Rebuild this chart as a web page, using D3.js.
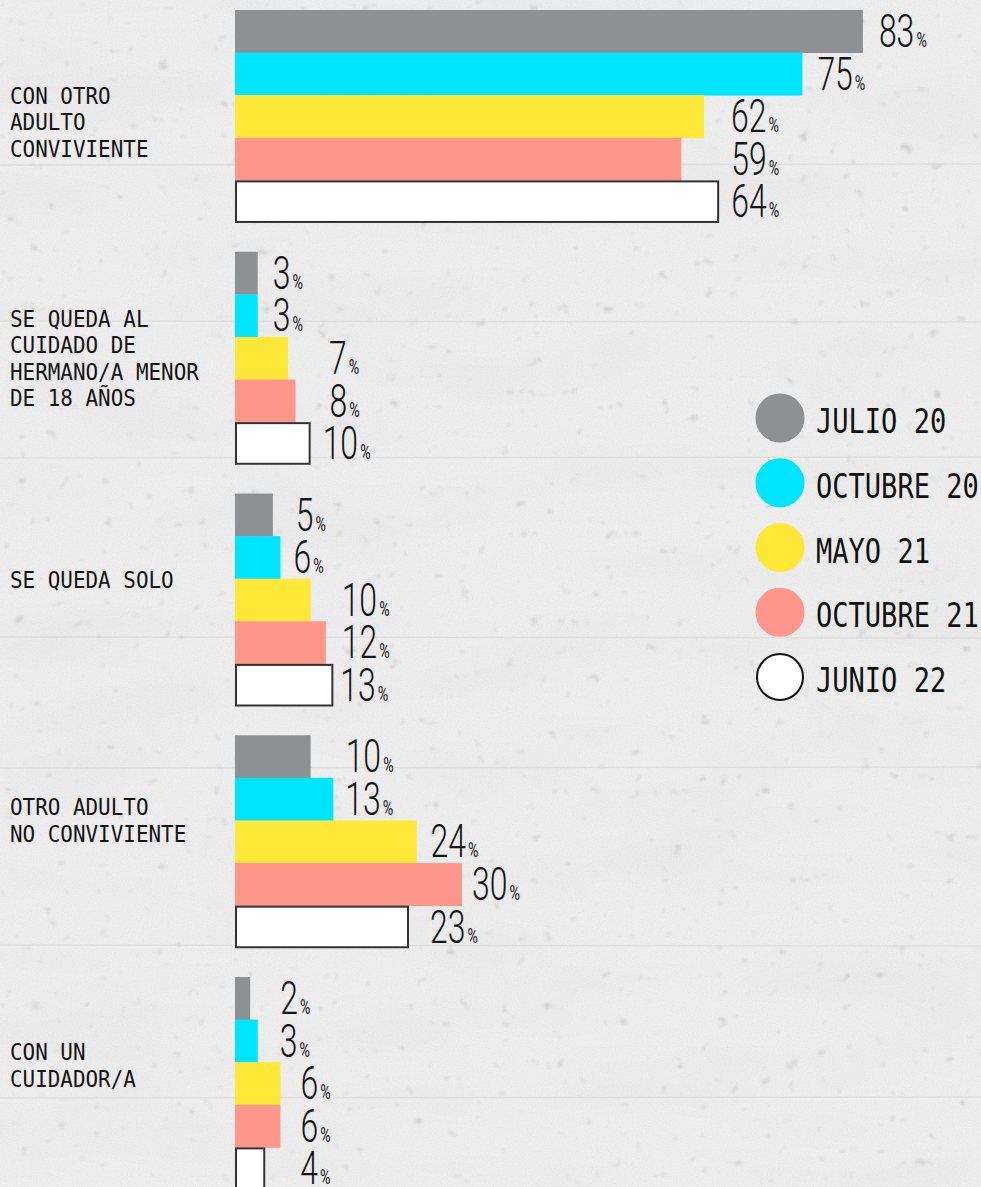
<!DOCTYPE html>
<html>
<head>
<meta charset="utf-8">
<script src="https://cdn.jsdelivr.net/npm/d3@7"></script>
<style>
  html, body { margin: 0; padding: 0; background: #ededed; }
  svg { display: block; }
</style>
</head>
<body>
<div id="chart"></div>
<script>
// ---- data ----
const categories = [
  "CON OTRO\nADULTO\nCONVIVIENTE",
  "SE QUEDA AL\nCUIDADO DE\nHERMANO/A MENOR\nDE 18 AÑOS",
  "SE QUEDA SOLO",
  "OTRO ADULTO\nNO CONVIVIENTE",
  "CON UN\nCUIDADOR/A"
];
const series = ["JULIO 20", "OCTUBRE 20", "MAYO 21", "OCTUBRE 21", "JUNIO 22"];
const julio20   = [83, 3, 5, 10, 2];
const octubre20 = [75, 3, 6, 13, 3];
const mayo21    = [62, 7, 10, 24, 6];
const octubre21 = [59, 8, 12, 30, 6];
const junio22   = [64, 10, 13, 23, 4];
const seriesValues = [julio20, octubre20, mayo21, octubre21, junio22];

// ---- layout ----
const W = 981, H = 1187;
const colors = ["#8e9194", "#00e5ff", "#ffe838", "#ff968c", "#ffffff"];
// horizontal gap (px) between each bar end and its value label, per category
const labelGap = [
  [16, 15, 27, 50, 12],
  [15, 15, 41, 34, 12],
  [23, 13, 31, 16, 7],
  [35, 12, 14, 10, 21],
  [30, 22, 20, 20, 35]
];
// first baseline of each category label, measured from the top of its group
const catLabelDy = [94, 75, 94, 80, 83];

const svg = d3.select("#chart").append("svg")
  .attr("width", W).attr("height", H);

// ---- concrete-like backdrop ----
const defs = svg.append("defs");
const grain = defs.append("filter").attr("id", "grain")
  .attr("x", 0).attr("y", 0).attr("width", "100%").attr("height", "100%");
grain.append("feTurbulence").attr("type", "fractalNoise")
  .attr("baseFrequency", "0.8").attr("numOctaves", 2).attr("seed", 4);
grain.append("feColorMatrix").attr("type", "matrix")
  .attr("values", "0 0 0 0 0.35  0 0 0 0 0.35  0 0 0 0 0.35  0.22 0 0 0 -0.08");

const specks = defs.append("filter").attr("id", "specks")
  .attr("x", 0).attr("y", 0).attr("width", "100%").attr("height", "100%");
specks.append("feTurbulence").attr("type", "fractalNoise")
  .attr("baseFrequency", "0.07").attr("numOctaves", 3).attr("seed", 11);
specks.append("feColorMatrix").attr("type", "matrix")
  .attr("values", "0 0 0 0 0.55  0 0 0 0 0.55  0 0 0 0 0.55  5 0 0 0 -3.6");
specks.append("feGaussianBlur").attr("stdDeviation", 1.1);

const blotch = defs.append("filter").attr("id", "blotch")
  .attr("x", 0).attr("y", 0).attr("width", "100%").attr("height", "100%");
blotch.append("feTurbulence").attr("type", "fractalNoise")
  .attr("baseFrequency", "0.005 0.018").attr("numOctaves", 2).attr("seed", 2);
blotch.append("feColorMatrix").attr("type", "matrix")
  .attr("values", "0 0 0 0 0.55  0 0 0 0 0.55  0 0 0 0 0.55  0.18 0 0 0 -0.06");

const bg = svg.append("g").attr("class", "backdrop");
bg.append("rect").attr("width", W).attr("height", H).attr("fill", "#efefef");
bg.append("rect").attr("width", W).attr("height", H).attr("filter", "url(#blotch)");
bg.append("rect").attr("width", W).attr("height", H).attr("filter", "url(#grain)");
bg.append("rect").attr("width", W).attr("height", H).attr("filter", "url(#specks)").attr("opacity", 0.7);
// faint horizontal joints of the wall
[165, 321, 458, 637, 768, 945, 1098].forEach((yy, i) => {
  bg.append("line")
    .attr("x1", 0).attr("x2", W).attr("y1", yy).attr("y2", yy + (i % 2 ? 1 : -1))
    .attr("stroke", "#cdcdcd").attr("stroke-width", 1.6).attr("opacity", 0.35);
});

// ---- scales ----
const x = d3.scaleLinear().domain([0, 100]).range([235, 235 + 756.5]);
const y0 = d3.scaleBand().domain(categories).range([10, 1190]).paddingInner(0.119).paddingOuter(0);
const y1 = d3.scaleBand().domain(series).range([0, y0.bandwidth()]);

const rows = [];
categories.forEach((c, ci) => {
  series.forEach((s, si) => {
    rows.push({ c, ci, s, si, v: seriesValues[si][ci] });
  });
});

// ---- bars ----
const bars = svg.append("g").attr("class", "bars");
bars.selectAll("rect").data(rows).join("rect")
  .attr("x", d => d.si === 4 ? x(0) + 1 : x(0))
  .attr("y", d => y0(d.c) + y1(d.s) + (d.si === 4 ? 1 : 0))
  .attr("width", d => d.si === 4 ? x(d.v) - x(0) - 2 : x(d.v) - x(0))
  .attr("height", d => d.si === 4 ? y1.bandwidth() - 2 : y1.bandwidth() + 0.4)
  .attr("fill", d => colors[d.si])
  .attr("stroke", d => d.si === 4 ? "#333333" : "none")
  .attr("stroke-width", 2);

// ---- value labels ----
const vals = svg.append("g").attr("class", "values")
  .style("font-family", "Roboto, 'Noto Sans', sans-serif")
  .style("font-weight", 300)
  .attr("fill", "#161616");
const vt = vals.selectAll("text").data(rows).join("text")
  .attr("transform", d => `translate(${x(d.v) + labelGap[d.ci][d.si]},${y0(d.c) + y1(d.s) + 37}) scale(0.68,1)`);
vt.append("tspan").attr("font-size", 47).text(d => d.v);
vt.append("tspan").attr("font-size", 21).attr("dx", 3).style("font-weight", 400).text("%");

// ---- category labels ----
const cats = svg.append("g").attr("class", "categories")
  .style("font-family", "'DejaVu Sans Mono', 'Liberation Mono', monospace")
  .attr("font-size", 23).attr("fill", "#141414");
categories.forEach((c, ci) => {
  const t = cats.append("text")
    .attr("transform", `translate(10,${y0(c) + catLabelDy[ci]}) scale(0.91,1)`);
  c.split("\n").forEach((line, li) => {
    t.append("tspan").attr("x", 0).attr("dy", li === 0 ? 0 : 26.5).text(line);
  });
});

// ---- legend ----
const legend = svg.append("g").attr("class", "legend");
const ly = d3.scalePoint().domain(series).range([418, 677]);
const li = legend.selectAll("g").data(series).join("g")
  .attr("transform", d => `translate(780,${ly(d)})`);
li.append("circle")
  .attr("r", (d, i) => i === 4 ? 23 : 24.5)
  .attr("fill", (d, i) => colors[i])
  .attr("stroke", (d, i) => i === 4 ? "#111" : "none")
  .attr("stroke-width", 2);
li.append("text")
  .attr("transform", "translate(36,15) scale(0.82,1)")
  .style("font-family", "'DejaVu Sans Mono', 'Liberation Mono', monospace")
  .attr("font-size", 33).attr("fill", "#111")
  .text(d => d);
</script>
</body>
</html>
